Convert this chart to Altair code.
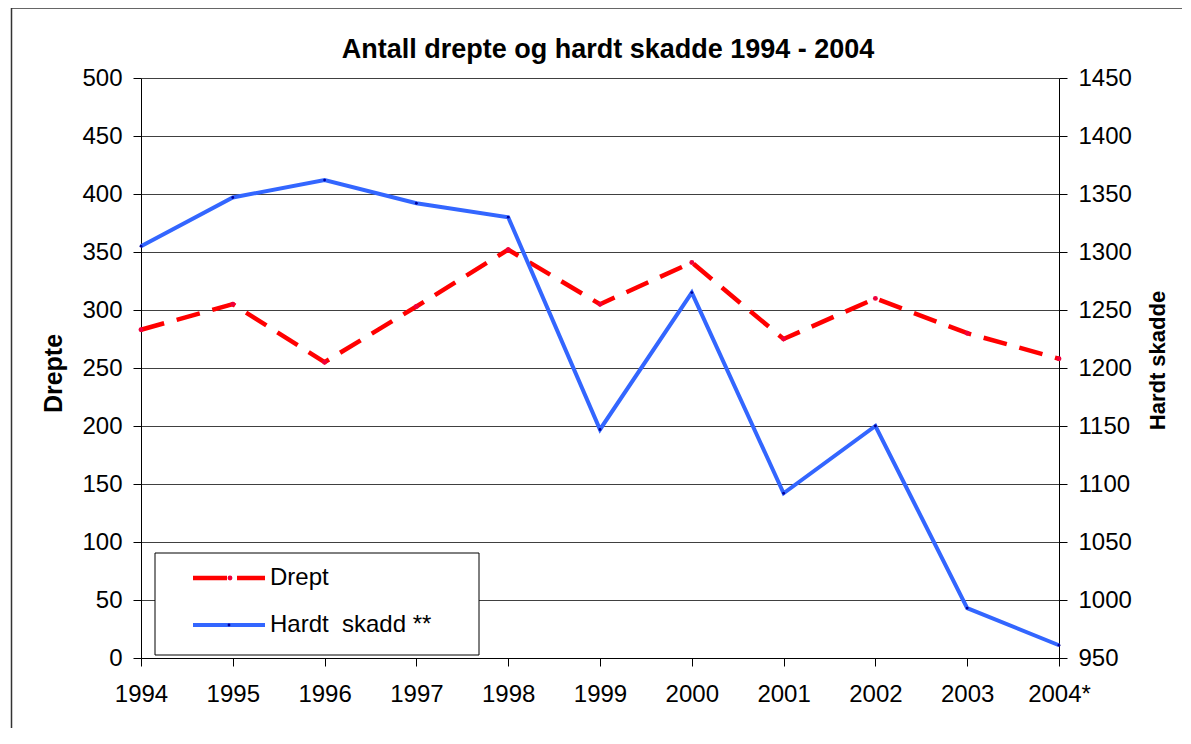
import altair as alt
import pandas as pd

years = ["1994", "1995", "1996", "1997", "1998", "1999", "2000", "2001", "2002", "2003", "2004*"]
drept = [283, 305, 255, 303, 352, 305, 341, 275, 310, 280, 258]
hardt = [1305, 1347, 1362, 1342, 1330, 1147, 1265, 1092, 1150, 993, 961]
left_ticks = [0, 50, 100, 150, 200, 250, 300, 350, 400, 450, 500]
right_ticks = [950, 1000, 1050, 1100, 1150, 1200, 1250, 1300, 1350, 1400, 1450]
legend_labels = ["Drept", "Hardt\u00a0\u00a0skadd **"]
title_text = "Antall drepte og hardt skadde 1994 - 2004"
left_title = "Drepte"
right_title = "Hardt skadde"

df = pd.DataFrame({"year": years, "drept": drept, "hardt": hardt})
deco = pd.DataFrame({"k": [0]})

FONT = "Liberation Sans"
RED = "#FF0000"
BLUE = "#3366FF"

x_enc = alt.X(
    "year:O", sort=years,
    scale=alt.Scale(type="point", padding=0),
    axis=alt.Axis(title=None, labelAngle=0, labelFontSize=24, labelFont=FONT,
                  labelColor="black", tickSize=8, tickColor="black",
                  domainColor="black", labelPadding=16, grid=False),
)

y_left = alt.Y(
    "drept:Q",
    scale=alt.Scale(domain=[0, 500], nice=False, zero=False),
    axis=alt.Axis(orient="left", values=left_ticks, title=left_title, format="d",
                  titleFontSize=25, titleFont=FONT, titleFontWeight="bold",
                  titleColor="black", titleAngle=270, titleX=-88, titleY=295,
                  titleBaseline="middle", titleAlign="center",
                  labelFontSize=24, labelFont=FONT, labelColor="black",
                  labelPadding=11, tickSize=8, tickColor="black",
                  domainColor="black", grid=True, gridColor="#404040", gridWidth=1),
)

y_right = alt.Y(
    "hardt:Q",
    scale=alt.Scale(domain=[950, 1450], nice=False, zero=False),
    axis=alt.Axis(orient="right", values=right_ticks, title=right_title, format="d",
                  titleFontSize=22, titleFont=FONT, titleFontWeight="bold",
                  titleColor="black", titleAngle=270, titleX=98, titleY=282,
                  titleBaseline="middle", titleAlign="center",
                  labelFontSize=24, labelFont=FONT, labelColor="black",
                  labelPadding=11, tickSize=8, tickColor="black",
                  domainColor="black", grid=False),
)

red_line = alt.Chart(df).mark_line(color=RED, strokeWidth=4.5, strokeDash=[24, 13]).encode(x=x_enc, y=y_left)
red_pts = alt.Chart(df).mark_circle(color="#F0003C", size=24, opacity=1).encode(x=x_enc, y=y_left)
left = alt.layer(red_line, red_pts)

blue_line = alt.Chart(df).mark_line(color=BLUE, strokeWidth=4).encode(x=x_enc, y=y_right)
blue_pts = alt.Chart(df).mark_circle(color="#000099", size=8, opacity=1).encode(x=x_enc, y=y_right)
right = alt.layer(blue_line, blue_pts)

frame_left = alt.Chart(deco).mark_rule(color="#333333", strokeWidth=1.5, clip=False).encode(
    x=alt.value(-129.5), y=alt.value(-70), y2=alt.value(700))
frame_top = alt.Chart(deco).mark_rule(color="#333333", strokeWidth=1.5, clip=False).encode(
    x=alt.value(-129.5), x2=alt.value(1100), y=alt.value(-70))

title_mark = alt.Chart(deco).mark_text(align="center", baseline="alphabetic", fontSize=27,
                                       fontWeight="bold", font=FONT, color="black").encode(
    x=alt.value(467), y=alt.value(-20), text=alt.value(title_text))

box = alt.Chart(deco).mark_rect(fill="white", stroke="black", strokeWidth=1).encode(
    x=alt.value(14), x2=alt.value(338), y=alt.value(475), y2=alt.value(577))
leg_red = alt.Chart(deco).mark_rule(color=RED, strokeWidth=4.5, strokeDash=[34, 10]).encode(
    x=alt.value(52), x2=alt.value(124), y=alt.value(500))
leg_red_dot = alt.Chart(deco).mark_circle(color="#F0003C", size=24, opacity=1).encode(
    x=alt.value(89), y=alt.value(500))
leg_blue = alt.Chart(deco).mark_rule(color=BLUE, strokeWidth=4).encode(
    x=alt.value(52), x2=alt.value(124), y=alt.value(547))
leg_blue_dot = alt.Chart(deco).mark_circle(color="#000099", size=8, opacity=1).encode(
    x=alt.value(88), y=alt.value(547))
leg_text1 = alt.Chart(deco).mark_text(align="left", baseline="middle", fontSize=24, font=FONT, color="black").encode(
    x=alt.value(129), y=alt.value(500), text=alt.value(legend_labels[0]))
leg_text2 = alt.Chart(deco).mark_text(align="left", baseline="middle", fontSize=24, font=FONT, color="black").encode(
    x=alt.value(129), y=alt.value(547), text=alt.value(legend_labels[1]))

chart = alt.layer(
    left, right, frame_left, frame_top, title_mark, box,
    leg_red, leg_red_dot, leg_blue, leg_blue_dot, leg_text1, leg_text2,
).resolve_scale(y="independent").properties(
    width=918, height=580,
    padding={"left": 133, "top": 70, "right": 123, "bottom": 70},
    autosize=alt.AutoSizeParams(type="none"),
    background="white",
).configure_view(stroke="transparent")

chart.save("out.html", embed_options={"renderer": "svg", "actions": False})
